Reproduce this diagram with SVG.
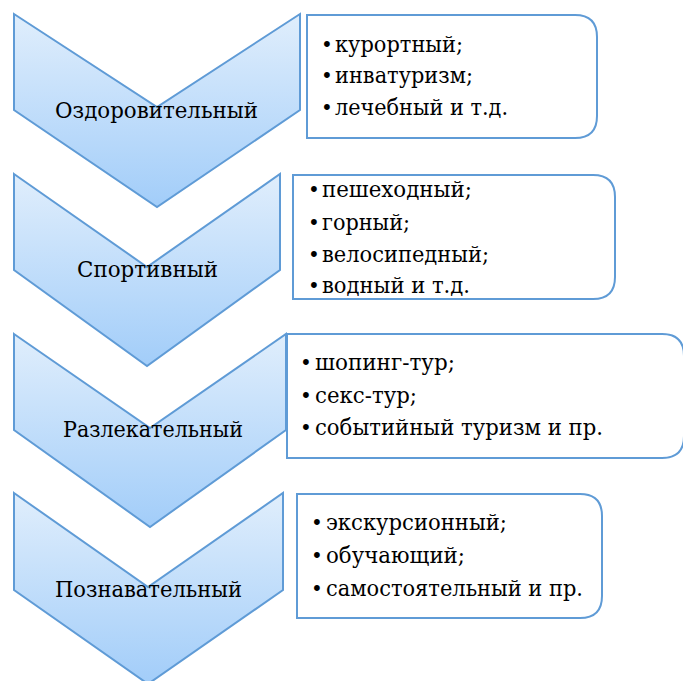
<svg xmlns="http://www.w3.org/2000/svg" width="683" height="681" viewBox="0 0 683 681">
<defs>
<linearGradient id="g" x1="0" y1="0" x2="0" y2="1">
<stop offset="0" stop-color="#e0eefc"/>
<stop offset="1" stop-color="#a2cdf9"/>
</linearGradient>
<style>
.chev{fill:url(#g);stroke:#5f9bd6;stroke-width:2}
.box{fill:#fff;stroke:#5f9bd6;stroke-width:2}
.t{font-family:'DejaVu Serif','Liberation Serif',serif;font-size:22.5px;fill:#000}
.b{font-family:'DejaVu Serif','Liberation Serif',serif;font-size:20px;fill:#000;text-anchor:middle}
</style>
</defs>
<rect width="683" height="681" fill="#fff"/>
<g id="n1">
<path class="chev" d="M14,14 L157,107 L300,14 L300,110 L157,207 L14,110 Z"/>
<text class="t" x="55" y="118" textLength="203" lengthAdjust="spacingAndGlyphs">Оздоровительный</text>
</g>
<g id="n2">
<path class="chev" d="M14,174 L147,267 L280,174 L280,270 L147,366 L14,270 Z"/>
<text class="t" x="77" y="277" textLength="141" lengthAdjust="spacingAndGlyphs">Спортивный</text>
</g>
<g id="n3">
<path class="chev" d="M14,334 L150,428 L286,334 L286,430 L150,527 L14,430 Z"/>
<text class="t" x="63" y="437" textLength="180" lengthAdjust="spacingAndGlyphs">Разлекательный</text>
</g>
<g id="n4">
<path class="chev" d="M14,493 L148,587 L283,493 L283,590 L148,684 L14,590 Z"/>
<text class="t" x="55" y="597" textLength="187" lengthAdjust="spacingAndGlyphs">Познавательный</text>
</g>
<g id="b1">
<path class="box" d="M307,15 L575,15 Q597,15 597,37 L597,116 Q597,138 575,138 L307,138 Z"/>
<text class="b" x="327" y="52">•</text><text class="t" x="335" y="52" textLength="128" lengthAdjust="spacingAndGlyphs">курортный;</text>
<text class="b" x="327" y="83">•</text><text class="t" x="335" y="83" textLength="138" lengthAdjust="spacingAndGlyphs">инватуризм;</text>
<text class="b" x="327" y="115">•</text><text class="t" x="335" y="115" textLength="173" lengthAdjust="spacingAndGlyphs">лечебный и т.д.</text>
</g>
<g id="b2">
<path class="box" d="M293,175 L593,175 Q615,175 615,197 L615,277 Q615,299 593,299 L293,299 Z"/>
<text class="b" x="314" y="197">•</text><text class="t" x="322" y="197" textLength="150" lengthAdjust="spacingAndGlyphs">пешеходный;</text>
<text class="b" x="314" y="230">•</text><text class="t" x="322" y="230" textLength="88" lengthAdjust="spacingAndGlyphs">горный;</text>
<text class="b" x="314" y="262">•</text><text class="t" x="322" y="262" textLength="167" lengthAdjust="spacingAndGlyphs">велосипедный;</text>
<text class="b" x="314" y="293">•</text><text class="t" x="322" y="293" textLength="148" lengthAdjust="spacingAndGlyphs">водный и т.д.</text>
</g>
<g id="b3">
<path class="box" d="M287,334 L662,334 Q684,334 684,356 L684,436 Q684,458 662,458 L287,458 Z"/>
<text class="b" x="306" y="370">•</text><text class="t" x="315" y="370" textLength="140" lengthAdjust="spacingAndGlyphs">шопинг-тур;</text>
<text class="b" x="306" y="403">•</text><text class="t" x="315" y="403" textLength="102" lengthAdjust="spacingAndGlyphs">секс-тур;</text>
<text class="b" x="306" y="435">•</text><text class="t" x="315" y="435" textLength="288" lengthAdjust="spacingAndGlyphs">событийный туризм и пр.</text>
</g>
<g id="b4">
<path class="box" d="M297,494 L580,494 Q602,494 602,516 L602,596 Q602,618 580,618 L297,618 Z"/>
<text class="b" x="317" y="530">•</text><text class="t" x="326" y="530" textLength="181" lengthAdjust="spacingAndGlyphs">экскурсионный;</text>
<text class="b" x="317" y="563">•</text><text class="t" x="326" y="563" textLength="139" lengthAdjust="spacingAndGlyphs">обучающий;</text>
<text class="b" x="317" y="596">•</text><text class="t" x="326" y="596" textLength="257" lengthAdjust="spacingAndGlyphs">самостоятельный и пр.</text>
</g>
<g id="connectors"/>
</svg>
